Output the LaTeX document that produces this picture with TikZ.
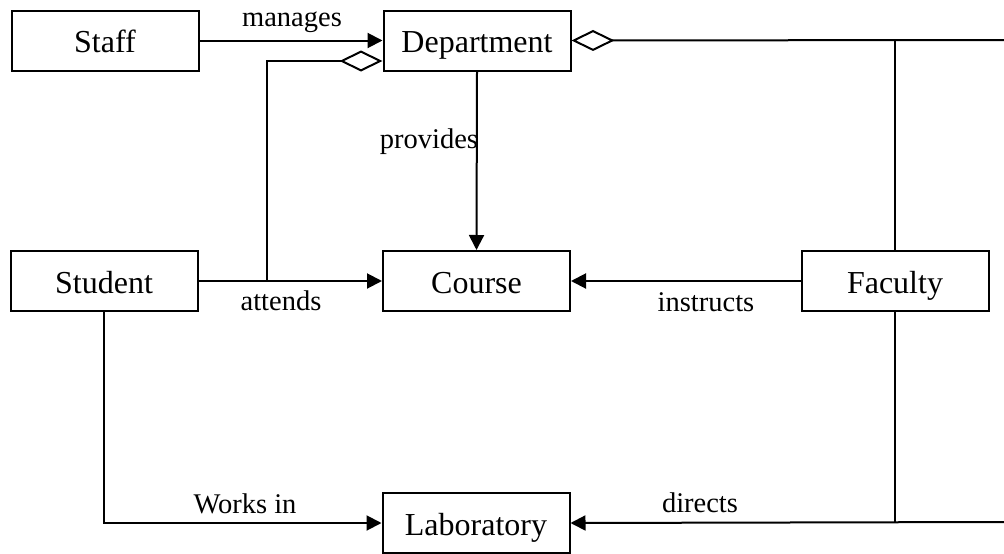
\documentclass[tikz,border=0pt]{standalone}
\usepackage{fontspec}
\setmainfont{Liberation Serif}
\usetikzlibrary{arrows.meta}
\begin{document}
\begin{tikzpicture}[x=1pt,y=-1pt,line width=2pt,
  entity/.style={draw,rectangle,inner sep=0pt,minimum width=187pt,minimum height=60pt,
    text height=26pt,text depth=2pt,font=\fontsize{32}{36}\selectfont},
  lbl/.style={inner sep=0pt,anchor=base,font=\fontsize{28.5}{32}\selectfont},
  assoc/.style={-{Triangle[length=15pt,width=15pt]}},
  aggr/.style={{Diamond[open,length=43pt,width=21pt]}-}]
\useasboundingbox (0,0) rectangle (1004,554);

% classes
\node[entity] (staff)   at (105,40.5)  {Staff};
\node[entity] (dept)    at (477,40.5)  {Department};
\node[entity] (student) at (104,281)   {Student};
\node[entity] (course)  at (476.5,281) {Course};
\node[entity] (faculty) at (895,281)   {Faculty};
\node[entity] (lab)     at (476,523)   {Laboratory};

% helper points of the aggregation frame
\coordinate (ne) at (1004,40);
\coordinate (se) at (1004,522);
\coordinate (ft) at (895,40);
\coordinate (fb) at (895,522);
\coordinate (aj) at (267,281);

% associations
\draw[assoc] (staff.east) -- (dept.west);
\node[lbl] at (292,27) {manages};

\draw[assoc] (dept.south) -- (course.north);
\node[lbl,anchor=base east] at (479,148) {provides};

\draw[assoc] (student.east) -- (course.west);
\node[lbl] at (281,310) {attends};

\draw[assoc] (faculty.west) -- (course.east);
\node[lbl] at (706,311) {instructs};

\draw[assoc] (student.south) |- (lab.west);
\node[lbl] at (245,513) {Works in};

\draw[assoc] (se) -- (lab.east);
\node[lbl] at (700,512) {directs};

% aggregations into Department
\draw[aggr] (dept.east) -- (ne);
\draw[aggr] ([yshift=-20.5pt]dept.west) -| (aj);
\draw (ft) -- (faculty.north);
\draw (faculty.south) -- (fb);
\end{tikzpicture}
\end{document}
